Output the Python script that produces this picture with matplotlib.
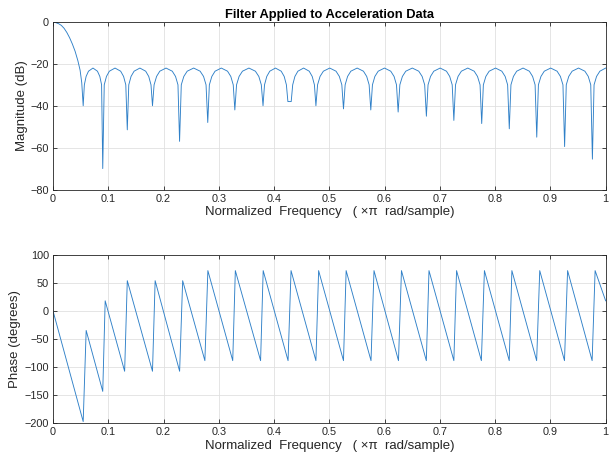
import matplotlib
matplotlib.use("Agg")
import matplotlib.pyplot as plt

plt.rcParams["font.family"] = ["Liberation Sans", "DejaVu Sans"]

# ================================
# MAGNITUDE DATA
# ================================

# main lobe
main_freq = [0.0, 0.005, 0.010, 0.015, 0.020, 0.025, 0.030, 0.035, 0.040, 0.045, 0.049, 0.052]
main_db = [0.0, -0.3, -0.8, -1.6, -3.0, -5.0, -7.5, -10.5, -14.0, -18.5, -23.0, -29.0]

# null positions and depths
null_freq = [0.0546, 0.090, 0.1344, 0.180, 0.229, 0.280, 0.329, 0.380, 0.425, 0.431,
             0.4757, 0.5256, 0.575, 0.6245, 0.6756, 0.7253, 0.7757, 0.8256, 0.8753,
             0.9257, 0.976]
null_db = [-40, -70, -51.5, -40, -57, -48, -42, -40, -38, -38,
           -40, -41.5, -42, -43, -45, -47, -48.5, -51, -55,
           -59.5, -65.5]

# side lobes between nulls (7 points each)
lobe_freq = [
    [0.0567, 0.0599, 0.0642, 0.0723, 0.0804, 0.0847, 0.0879],
    [0.0927, 0.0967, 0.1020, 0.1122, 0.1224, 0.1277, 0.1317],
    [0.1371, 0.1412, 0.1467, 0.1572, 0.1677, 0.1732, 0.1773],
    [0.1829, 0.1874, 0.1932, 0.2045, 0.2158, 0.2217, 0.2261],
    [0.2321, 0.2367, 0.2428, 0.2545, 0.2662, 0.2724, 0.2769],
    [0.2829, 0.2874, 0.2932, 0.3045, 0.3158, 0.3217, 0.3261],
    [0.3321, 0.3367, 0.3428, 0.3545, 0.3662, 0.3724, 0.3769],
    [0.3827, 0.3868, 0.3922, 0.4025, 0.4129, 0.4183, 0.4223],
    [],
    [0.4337, 0.4377, 0.4431, 0.4534, 0.4636, 0.4690, 0.4730],
    [0.4787, 0.4832, 0.4892, 0.5007, 0.5121, 0.5181, 0.5226],
    [0.5286, 0.5330, 0.5389, 0.5503, 0.5617, 0.5676, 0.5720],
    [0.5780, 0.5824, 0.5884, 0.5998, 0.6111, 0.6171, 0.6215],
    [0.6276, 0.6322, 0.6383, 0.6501, 0.6618, 0.6679, 0.6725],
    [0.6786, 0.6831, 0.6890, 0.7005, 0.7119, 0.7178, 0.7223],
    [0.7283, 0.7329, 0.7389, 0.7505, 0.7621, 0.7681, 0.7727],
    [0.7787, 0.7832, 0.7892, 0.8007, 0.8121, 0.8181, 0.8226],
    [0.8286, 0.8331, 0.8390, 0.8505, 0.8619, 0.8678, 0.8723],
    [0.8783, 0.8829, 0.8889, 0.9005, 0.9121, 0.9181, 0.9227],
    [0.9287, 0.9332, 0.9393, 0.9509, 0.9624, 0.9685, 0.9730],
    [0.9790, 0.9835, 0.9895, 1.0],
]
lobe_db = [-30, -26, -23.5, -22, -23.5, -26, -30]

# ================================
# PHASE DATA (sawtooth vertices)
# ================================

phase_freq = [0.0, 0.0546, 0.060, 0.090, 0.0944, 0.1296, 0.1344, 0.180, 0.1848, 0.2291,
              0.2346, 0.2748, 0.2802, 0.3252, 0.3299, 0.3756, 0.3803, 0.4253, 0.4307,
              0.4757, 0.4806, 0.5256, 0.5304, 0.5754, 0.5808, 0.6251, 0.6305, 0.6755,
              0.6803, 0.7253, 0.7302, 0.7751, 0.7806, 0.8255, 0.8303, 0.8751, 0.8807,
              0.9255, 0.9311, 0.9755, 0.9809, 1.0]
phase_deg = [0, -198, -35, -144, 18, -108, 54, -108, 54, -108,
             54, -89, 72, -89, 72, -89, 72, -89, 72,
             -89, 72, -89, 72, -89, 72, -89, 72, -89,
             72, -89, 72, -89, 72, -89, 72, -89, 72,
             -89, 72, -89, 72, 18]

x_ticks = [0, 0.1, 0.2, 0.3, 0.4, 0.5, 0.6, 0.7, 0.8, 0.9, 1]
x_tick_labels = ["0", "0.1", "0.2", "0.3", "0.4", "0.5", "0.6", "0.7", "0.8", "0.9", "1"]

# assemble magnitude curve
mag_freq = list(main_freq)
mag_db = list(main_db)
for i in range(len(null_freq)):
    mag_freq.append(null_freq[i])
    mag_db.append(null_db[i])
    mag_freq.extend(lobe_freq[i])
    mag_db.extend(lobe_db[:len(lobe_freq[i])])
mag_db[-1] = -22

# ================================
# PLOT
# ================================

line_color = "#2f80c8"
axis_color = "#262626"

fig = plt.figure(figsize=(6.1, 4.62), dpi=100)
ax1 = fig.add_axes([0.0869, 0.5898, 0.906, 0.3626])
ax2 = fig.add_axes([0.0869, 0.0851, 0.906, 0.3630])


def style_axes(ax):
    for spine in ax.spines.values():
        spine.set_color(axis_color)
        spine.set_linewidth(0.6)
    ax.tick_params(direction="in", top=True, right=True, length=3, width=0.6,
                   colors=axis_color, labelsize=7.8, pad=3)
    ax.grid(True, color="#e0e0e0", linewidth=0.6)
    ax.set_axisbelow(True)
    ax.set_xticks(x_ticks)
    ax.set_xticklabels(x_tick_labels)
    ax.set_xlim(0, 1)


ax1.plot(mag_freq, mag_db, color=line_color, linewidth=0.65)
style_axes(ax1)
ax1.set_ylim(-80, 0)
ax1.set_yticks([-80, -60, -40, -20, 0])
ax1.set_ylabel("Magnitude (dB)", fontsize=9.5, color=axis_color, labelpad=2)
ax1.set_xlabel("Normalized  Frequency   ( ×π  rad/sample)", fontsize=9.5,
               color=axis_color, labelpad=2)
ax1.set_title("Filter Applied to Acceleration Data", fontsize=9.3,
              fontweight="bold", pad=3)

ax2.plot(phase_freq, phase_deg, color=line_color, linewidth=0.65)
style_axes(ax2)
ax2.set_ylim(-200, 100)
ax2.set_yticks([-200, -150, -100, -50, 0, 50, 100])
ax2.set_ylabel("Phase (degrees)", fontsize=9.5, color=axis_color, labelpad=2)
ax2.set_xlabel("Normalized  Frequency   ( ×π  rad/sample)", fontsize=9.5,
               color=axis_color, labelpad=2)

fig.savefig("out.png", dpi=100)
plt.close(fig)
